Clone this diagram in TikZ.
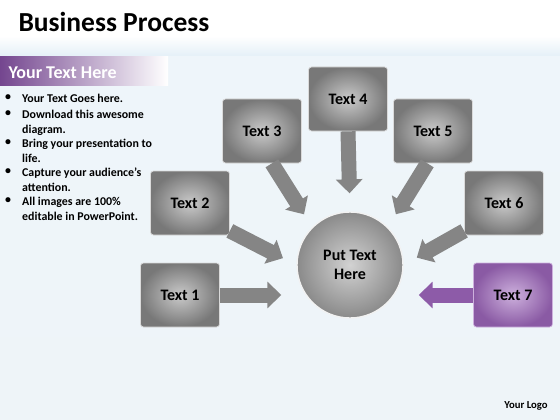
\documentclass[tikz,border=0pt]{standalone}
\usepackage{fontspec}
\setmainfont{Carlito}
\usetikzlibrary{arrows.meta,positioning,calc}
\definecolor{boxin}{HTML}{CACACA}
\definecolor{boxout}{HTML}{787878}
\definecolor{hubin}{HTML}{D2D2D2}
\definecolor{hubout}{HTML}{8A8A8A}
\definecolor{flowgray}{HTML}{858585}
\definecolor{lilacin}{HTML}{CDB0DD}
\definecolor{lilacout}{HTML}{8A5AA4}
\definecolor{lilacflow}{HTML}{8D5BA8}
\definecolor{headpurple}{HTML}{74468F}
\definecolor{bandblue}{HTML}{E3EFF7}
\definecolor{bgblue}{HTML}{EEF4F8}
\tikzset{
	textbox/.style={rectangle, rounded corners=3pt, minimum width=79pt, minimum height=64pt,
		inner color=boxin, outer color=boxout, draw=boxin!70!white, line width=0.7pt,
		font=\bfseries\fontsize{16}{18}\selectfont},
	lilacbox/.style={textbox, inner color=lilacin, outer color=lilacout, draw=lilacin},
	hubnode/.style={circle, minimum size=106pt, inner sep=0pt, align=center,
		inner color=hubin, outer color=hubout, draw=white!90!gray, line width=1.4pt,
		font=\bfseries\fontsize{16}{19}\selectfont},
	flow/.style={line width=15pt, draw=flowgray, -{Triangle[length=14pt,width=26pt]}, shorten >=15pt},
	bulletline/.style={anchor=north west, align=left, inner sep=0pt, font=\bfseries\fontsize{11.9}{14.6}\selectfont}
}
\begin{document}
\begin{tikzpicture}[x=1pt, y=-1pt]
	\useasboundingbox (0,0) rectangle (560,420);
	\fill[white] (0,0) rectangle (560,420);
	\fill[top color=white, bottom color=bandblue] (0,36) rectangle (560,57);
	\fill[top color=bandblue!60!white, bottom color=bgblue] (0,57) rectangle (560,420);
	\node[anchor=west, font=\bfseries\fontsize{27.5}{32}\selectfont] (title) at (15,22) {Business Process};
	\shade[left color=headpurple, right color=white] (0,57) rectangle (168,86);
	\node[anchor=west, text=white, font=\bfseries\fontsize{18}{21}\selectfont] (header) at (5,73) {Your Text Here};
	\foreach \y/\txt [count=\i] in {94/{Your Text Goes here.}, 110/{Download this awesome\\diagram.}, 139/{Bring your presentation to\\life.}, 168/{Capture your audience's\\attention.}, 197/{All images are 100\%\\editable in PowerPoint.}}{
		\node[bulletline] (bul\i) at (5,\y) {\textbullet};
		\node[bulletline] (item\i) at (22,\y) {\txt};
	}
	\node[textbox] (txtone)		at (180,295)	{Text 1};
	\node[textbox] (txttwo)		at (190,203)	{Text 2};
	\node[textbox] (txtthree)	at (262,131)	{Text 3};
	\node[textbox] (txtfour)	at (348,99)		{Text 4};
	\node[textbox] (txtfive)	at (433,131)	{Text 5};
	\node[textbox] (txtsix)		at (504,203)	{Text 6};
	\node[lilacbox] (txtseven)	at (513,295)	{Text 7};
	\node[hubnode] (hub)		at (350,265)	{Put Text\\Here};
	\draw[flow] (txtone.east) -- (txtone.east -| hub.west);
	\draw[flow] (txttwo.-35) -- (hub.180);
	\draw[flow] (txtthree.-73) -- (hub.135);
	\draw[flow, shorten >=18pt] (txtfour.south) -- (hub.north);
	\draw[flow] (txtfive.-100) -- (hub.45);
	\draw[flow] (txtsix.-145) -- (hub.0);
	\draw[flow, draw=lilacflow] (txtseven.west) -- (txtseven.west -| hub.east);
	\node[font=\bfseries\fontsize{10.7}{12}\selectfont] (logo) at (526,406) {Your Logo};
\end{tikzpicture}
\end{document}
